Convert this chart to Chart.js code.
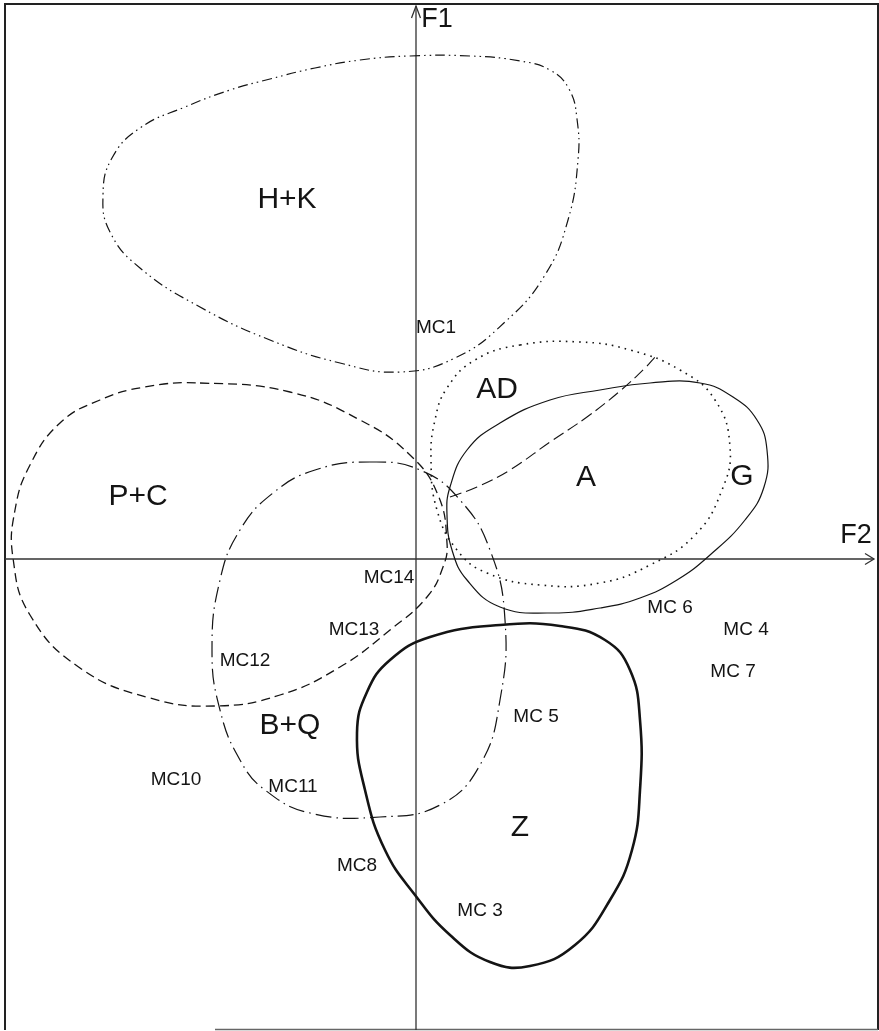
<!DOCTYPE html>
<html>
<head>
<meta charset="utf-8">
<script src="https://cdn.jsdelivr.net/npm/chart.js@4/dist/chart.umd.min.js"></script>
<style>
  html, body { margin: 0; padding: 0; background: #fff; }
  canvas { display: block; }
</style>
</head>
<body>
<canvas id="plan" width="879" height="1031"></canvas>
<script>
// Factor plane F2 (horizontal) x F1 (vertical): group envelopes and sample positions.

// Envelope outlines, [F2, F1] pairs, traced clockwise.
const contourHK = [
  [-0.06, 5.03], [0.54, 5.03], [1.04, 4.98], [1.34, 4.89], [1.53, 4.70], [1.61, 4.40],
  [1.62, 3.99], [1.52, 3.39], [1.29, 2.84], [0.89, 2.37], [0.39, 2.01], [-0.16, 1.87],
  [-0.76, 1.96], [-1.46, 2.19], [-2.16, 2.52], [-2.76, 2.91], [-3.06, 3.27], [-3.13, 3.64],
  [-3.04, 4.01], [-2.76, 4.31], [-2.31, 4.52], [-1.86, 4.69], [-1.46, 4.80], [-1.01, 4.91],
  [-0.56, 4.99]
];
const contourPC = [
  [-2.16, 1.76], [-1.26, 1.67], [-0.56, 1.39], [-0.06, 1.04], [0.22, 0.64], [0.31, 0.16],
  [0.27, -0.08], [0.11, -0.38], [-0.26, -0.71], [-0.76, -1.08], [-1.36, -1.36], [-2.01, -1.47],
  [-2.66, -1.39], [-3.36, -1.09], [-3.86, -0.56], [-4.03, 0.01], [-4.01, 0.49], [-3.86, 0.94],
  [-3.56, 1.36], [-3.16, 1.59], [-2.71, 1.72]
];
const contourBQ = [
  [-0.46, 0.97], [0.04, 0.89], [0.44, 0.59], [0.74, 0.09], [0.89, -0.61], [0.84, -1.41],
  [0.64, -2.06], [0.24, -2.46], [-0.36, -2.58], [-1.06, -2.54], [-1.51, -2.31], [-1.76, -2.01],
  [-1.96, -1.51], [-2.04, -0.91], [-1.96, -0.21], [-1.76, 0.29], [-1.43, 0.66], [-1.01, 0.89]
];
const contourAD = [
  [1.04, 2.14], [1.64, 2.17], [2.14, 2.09], [2.64, 1.89], [2.99, 1.59], [3.14, 1.12],
  [3.06, 0.69], [2.79, 0.24], [2.34, -0.06], [1.84, -0.24], [1.24, -0.26], [0.71, -0.14],
  [0.41, 0.09], [0.21, 0.49], [0.15, 0.99], [0.19, 1.39], [0.31, 1.71], [0.59, 1.99]
];
const contourA = [
  [0.34, 0.72], [0.51, 1.09], [0.84, 1.36], [1.34, 1.59], [1.84, 1.69], [2.34, 1.76],
  [2.84, 1.76], [3.17, 1.62], [3.41, 1.39], [3.51, 1.09], [3.48, 0.72], [3.29, 0.39],
  [2.94, 0.04], [2.61, -0.21], [2.24, -0.39], [1.84, -0.49], [1.34, -0.54], [0.84, -0.48],
  [0.51, -0.21], [0.36, 0.09], [0.31, 0.44]
];
const contourZ = [
  [0.84, -0.66], [1.44, -0.67], [1.89, -0.81], [2.14, -1.11], [2.24, -1.61], [2.24, -2.31],
  [2.16, -2.91], [1.94, -3.41], [1.59, -3.86], [1.14, -4.07], [0.74, -4.03], [0.34, -3.76],
  [-0.01, -3.36], [-0.31, -2.91], [-0.51, -2.31], [-0.59, -1.74], [-0.49, -1.33], [-0.26, -1.01],
  [0.14, -0.78]
];
// Open boundary of G, splitting it off the A envelope.
const boundaryG = [
  [0.34, 0.62], [0.61, 0.72], [0.94, 0.89], [1.34, 1.17], [1.71, 1.42], [2.04, 1.68],
  [2.29, 1.91], [2.39, 2.02]
];

// Group names and where they sit.
const groupNames = ['H+K', 'P+C', 'AD', 'A', 'G', 'B+Q', 'Z'];
const groupF2    = [-1.29, -2.78, 0.81, 1.70, 3.26, -1.26, 1.04];
const groupF1    = [ 3.59,  0.62, 1.69, 0.81, 0.82, -1.67, -2.69];

// Samples.
const sampleNames = ['MC1', 'MC 6', 'MC 4', 'MC 7', 'MC14', 'MC13', 'MC12', 'MC 5', 'MC10', 'MC11', 'MC8', 'MC 3'];
const sampleF2    = [0.20, 2.54, 3.30, 3.17, -0.27, -0.62, -1.71, 1.20, -2.40, -1.23, -0.59, 0.64];
const sampleF1    = [2.31, -0.49, -0.71, -1.13, -0.19, -0.71, -1.02, -1.58, -2.21, -2.28, -3.07, -3.52];

// Axis titles.
const axisNames = ['F1', 'F2'];
const axisF2    = [0.21, 4.40];
const axisF1    = [5.39, 0.23];

const INK = '#141414';
const FONT = 'Liberation Sans, Arial, sans-serif';

// A line controller whose spline wraps around into a closed outline.
class ClosedCurveController extends Chart.LineController {
  update(mode) {
    super.update(mode);
    const line = this._cachedMeta.dataset;
    line._loop = true;
    line._fullLoop = true;
  }
  draw() {
    const meta = this._cachedMeta;
    meta.dataset._loop = true;
    meta.dataset._fullLoop = true;
    meta.dataset.updateControlPoints(this.chart.chartArea, 'x');
    super.draw();
  }
}
ClosedCurveController.id = 'closedCurve';
ClosedCurveController.defaults = Chart.LineController.defaults;
Chart.register(ClosedCurveController);

const toXY = pts => pts.map(p => ({ x: p[0], y: p[1] }));
const zipXY = (xs, ys) => xs.map((x, i) => ({ x, y: ys[i] }));

function envelope(label, pts, dash, width) {
  return {
    type: 'closedCurve', label, data: toXY(pts),
    borderColor: INK, borderWidth: width, borderDash: dash,
    tension: 0.45, pointRadius: 0, fill: false
  };
}

// Frame and the two factor axes with arrowheads.
const axesPlugin = {
  id: 'factorAxes',
  beforeDatasetsDraw(chart) {
    const { ctx, chartArea: a, scales } = chart;
    const x0 = scales.x.getPixelForValue(0);
    const y0 = scales.y.getPixelForValue(0);
    ctx.save();
    ctx.lineCap = 'butt';
    // frame
    ctx.strokeStyle = '#222';
    ctx.lineWidth = 2;
    ctx.beginPath();
    ctx.moveTo(a.left, a.bottom);
    ctx.lineTo(a.left, a.top);
    ctx.lineTo(a.right, a.top);
    ctx.lineTo(a.right, a.bottom);
    ctx.stroke();
    ctx.strokeStyle = '#666';
    ctx.lineWidth = 1.5;
    ctx.beginPath();
    ctx.moveTo(scales.x.getPixelForValue(-2.01), a.bottom - 0.5);
    ctx.lineTo(a.right, a.bottom - 0.5);
    ctx.stroke();
    // axes
    ctx.strokeStyle = '#333';
    ctx.lineWidth = 1.3;
    ctx.beginPath();
    ctx.moveTo(x0, a.bottom);
    ctx.lineTo(x0, a.top + 2);
    ctx.moveTo(a.left, y0);
    ctx.lineTo(a.right - 4, y0);
    ctx.stroke();
    // arrowheads
    ctx.beginPath();
    ctx.moveTo(x0 - 4.5, a.top + 14);
    ctx.lineTo(x0, a.top + 2);
    ctx.lineTo(x0 + 4.5, a.top + 14);
    ctx.moveTo(a.right - 13, y0 - 5.5);
    ctx.lineTo(a.right - 4, y0);
    ctx.lineTo(a.right - 13, y0 + 5.5);
    ctx.stroke();
    ctx.restore();
  }
};

// Text for the group, sample and axis datasets, drawn at each point's position.
const textPlugin = {
  id: 'pointText',
  afterDatasetsDraw(chart) {
    const { ctx } = chart;
    ctx.save();
    ctx.fillStyle = INK;
    ctx.textAlign = 'center';
    ctx.textBaseline = 'middle';
    chart.data.datasets.forEach((ds, di) => {
      if (!ds.texts) return;
      const meta = chart.getDatasetMeta(di);
      ctx.font = ds.textFont;
      meta.data.forEach((el, i) => ctx.fillText(ds.texts[i], el.x, el.y));
    });
    ctx.restore();
  }
};

const textSet = (texts, xs, ys, font) => ({
  type: 'scatter', data: zipXY(xs, ys), texts, textFont: font,
  pointRadius: 0, pointHoverRadius: 0, showLine: false
});

new Chart(document.getElementById('plan'), {
  type: 'line',
  data: {
    datasets: [
      envelope('H+K', contourHK, [10, 4, 1.5, 4, 1.5, 4], 1.2),
      envelope('P+C', contourPC, [9, 5], 1.3),
      envelope('B+Q', contourBQ, [16, 5, 1.5, 5], 1.2),
      envelope('AD', contourAD, [1.6, 5], 1.6),
      envelope('A', contourA, [], 1.2),
      envelope('Z', contourZ, [], 2.6),
      {
        type: 'line', label: 'G', data: toXY(boundaryG),
        borderColor: INK, borderWidth: 1.1, borderDash: [12, 5],
        tension: 0.4, pointRadius: 0, fill: false
      },
      textSet(groupNames, groupF2, groupF1, '30px ' + FONT),
      textSet(sampleNames, sampleF2, sampleF1, '19px ' + FONT),
      textSet(axisNames, axisF2, axisF1, '27px ' + FONT)
    ]
  },
  options: {
    responsive: false,
    animation: false,
    events: [],
    layout: { padding: { left: 5, right: 1, top: 4, bottom: 1 } },
    plugins: { legend: { display: false }, tooltip: { enabled: false } },
    scales: {
      x: { type: 'linear', min: -4.11, max: 4.62, display: false },
      y: { type: 'linear', min: -4.71, max: 5.55, display: false }
    }
  },
  plugins: [axesPlugin, textPlugin]
});
</script>
</body>
</html>
